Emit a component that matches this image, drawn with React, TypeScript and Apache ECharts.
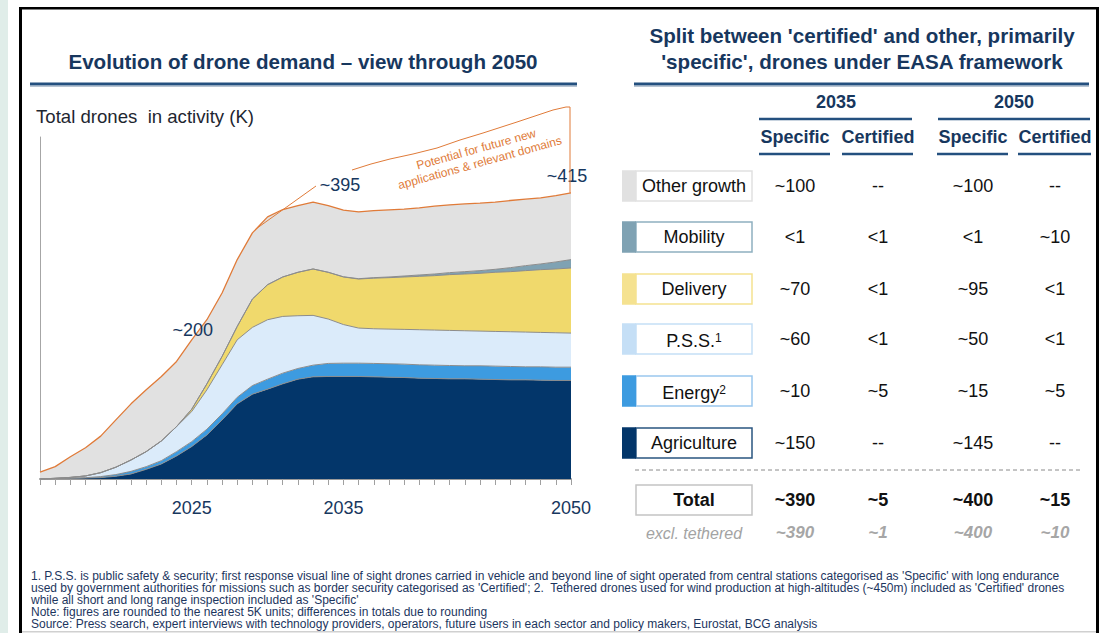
import React, { useEffect, useRef } from 'react';
import * as echarts from 'echarts';

// ---------- DATA ----------
const years = ['2015','2016','2017','2018','2019','2020','2021','2022','2023','2024','2025','2026','2027','2028','2029','2030','2031','2032','2033','2034','2035','2036','2037','2038','2039','2040','2041','2042','2043','2044','2045','2046','2047','2048','2049','2050'];
const shownYears = ['2025', '2035', '2050'];

const agriculture = [0, 0.5, 1, 1.5, 2, 4, 7.3, 14, 21.8, 33.4, 47, 63.9, 85.7, 109, 123, 130.3, 138, 144.8, 148.2, 148.7, 148.7, 148.7, 148.2, 147.7, 147.2, 146.2, 145.8, 145.3, 145.3, 144.8, 144.3, 143.8, 143.8, 143.3, 142.9, 142.9];
const energy = [0, 0.2, 0.3, 0.4, 1.5, 2.4, 3.8, 3.9, 4.8, 6.3, 7.2, 8.3, 8.7, 9.5, 12.5, 14.5, 15.5, 15.5, 16.9, 18.9, 19.3, 19.3, 19.4, 19.4, 19.4, 19.4, 19.3, 19.3, 18.9, 19.4, 19.4, 19.4, 18.9, 19.4, 19.3, 19.3];
const pss = [0, 0.3, 1, 2.5, 5.7, 10.7, 16.5, 21.8, 28.6, 36.3, 43.6, 57.1, 71.2, 83.4, 84.4, 86.2, 82.3, 76.5, 72.2, 64.4, 56, 50.9, 50.3, 50.3, 50.4, 50.9, 50.9, 50.9, 50.8, 50.3, 50.3, 50.4, 50.4, 49.9, 49.9, 49.4];
const delivery = [0, 0, 0, 0, 0, 0, 0, 0, 0, 0, 3.4, 8.7, 12.1, 19.4, 41.1, 50.8, 57.2, 63, 67.3, 67.8, 69, 71.1, 73.4, 74.6, 76, 77.4, 78.9, 80.9, 82.3, 83.8, 85.8, 87.1, 89.1, 91, 92.5, 94.4];
const mobility = [0, 0, 0, 0, 0, 0, 0, 0, 0, 0, 0, 0, 0, 0, 0, 0, 0, 0, 0, 0, 0.3, 0.5, 0.7, 1, 1.4, 2, 2.4, 2.9, 3.4, 3.9, 4.3, 5.8, 7.2, 8.3, 10.2, 12.2];
const otherGrowth = [10, 17, 30, 41, 53, 68.7, 81.4, 89.6, 93.5, 94.5, 100.7, 93, 92, 96.9, 95.9, 98.3, 97.8, 96.8, 96.9, 96.8, 96.7, 97, 97.3, 97.3, 96.9, 97.3, 98.3, 98.3, 98.3, 97.8, 97.4, 97.4, 96.4, 95.8, 96.3, 96.8];

const chartNotes = { mid: '~200', peak: '~395', end: '~415' };
const potentialText = 'Potential for future new\napplications & relevant domains';

const rowLabels = ['Other growth', 'Mobility', 'Delivery', 'P.S.S.', 'Energy', 'Agriculture'];
const rowSups = ['', '', '', '1', '2', ''];
const spec2035 = ['~100', '<1', '~70', '~60', '~10', '~150'];
const cert2035 = ['--', '<1', '<1', '<1', '~5', '--'];
const spec2050 = ['~100', '<1', '~95', '~50', '~15', '~145'];
const cert2050 = ['--', '~10', '<1', '<1', '~5', '--'];
const totalRow = ['~390', '~5', '~400', '~15'];
const exclTetheredRow = ['~390', '~1', '~400', '~10'];
const yearHeaders = ['2035', '2050'];
const subHeaders = ['Specific', 'Certified', 'Specific', 'Certified'];

const footnotes = [
  "1. P.S.S. is public safety & security; first response visual line of sight drones carried in vehicle and beyond line of sight operated from central stations categorised as 'Specific' with long endurance",
  "used by government authorities for missions such as border security categorised as 'Certified'; 2.  Tethered drones used for wind production at high-altitudes (~450m) included as 'Certified' drones",
  "while all short and long range inspection included as 'Specific'",
  'Note: figures are rounded to the nearest 5K units; differences in totals due to rounding',
  'Source: Press search, expert interviews with technology providers, operators, future users in each sector and policy makers, Eurostat, BCG analysis',
];

// ---------- STYLES ----------
const NAVY = '#17375e';
const FONT = '"Liberation Sans", Arial, sans-serif';
const COLORS: Record<string, { fill: string; strip: string; border: string }> = {
  'Other growth': { fill: '#e1e1e1', strip: '#e1e1e1', border: '#e1e1e1' },
  Mobility: { fill: '#7fa2b3', strip: '#7fa2b3', border: '#8fb0c0' },
  Delivery: { fill: '#f0d96c', strip: '#f5e290', border: '#f5e290' },
  'P.S.S.': { fill: '#dbebfa', strip: '#c5dff6', border: '#c5dff6' },
  Energy: { fill: '#3d9be0', strip: '#3d9be0', border: '#9bc8ee' },
  Agriculture: { fill: '#03366a', strip: '#03366a', border: '#2a5580' },
};

export default function App() {
  const ref = useRef<HTMLDivElement>(null);

  useEffect(() => {
    const chart = echarts.init(ref.current!, null, { renderer: 'svg' });
    const layers: [string, number[]][] = [
      ['Agriculture', agriculture],
      ['Energy', energy],
      ['P.S.S.', pss],
      ['Delivery', delivery],
      ['Mobility', mobility],
      ['Other growth', otherGrowth],
    ];
    const series = layers.map(([name, data]) => ({
      name,
      type: 'line',
      stack: 'total',
      data,
      showSymbol: false,
      symbol: 'none',
      lineStyle: { color: name === 'Other growth' ? '#e07b39' : '#8c8c8c', width: name === 'Other growth' ? 1.3 : 1 },
      areaStyle: { color: COLORS[name].fill, opacity: 1 },
      emphasis: { disabled: true },
      z: 2,
    }));

    chart.setOption({
      animation: false,
      backgroundColor: '#ffffff',
      grid: { left: 40, right: 533, top: 137, bottom: 154 },
      xAxis: {
        type: 'category',
        data: years,
        boundaryGap: false,
        axisLine: { show: true, lineStyle: { color: '#9a9a9a', width: 2 } },
        axisTick: { show: true, interval: 0, length: 6, lineStyle: { color: '#a0a0a0', width: 1 } },
        axisLabel: {
          interval: (_i: number, v: string) => shownYears.includes(v),
          color: NAVY,
          fontSize: 18,
          fontFamily: FONT,
          margin: 20,
        },
        splitLine: { show: false },
      },
      yAxis: {
        type: 'value',
        min: 0,
        max: 496,
        axisLine: { show: true, lineStyle: { color: '#a6a6a6', width: 1 } },
        axisTick: { show: false },
        axisLabel: { show: false },
        splitLine: { show: false },
      },
      series,
    });

    const totals = years.map((_, i) => layers.reduce((s, [, d]) => s + d[i], 0));
    const px = (i: number) => chart.convertToPixel({ xAxisIndex: 0, yAxisIndex: 0 }, [i, totals[i]]) as number[];
    const p29 = px(14);
    const p30 = px(15);
    const connStart = [(p29[0] + p30[0]) / 2 - 4, (p29[1] + p30[1]) / 2 + 4];
    const pEnd = px(years.length - 1);
    const p25 = px(10);

    const g: any[] = [];
    // page frame
    g.push({ type: 'rect', shape: { x: 0, y: 0, width: 8, height: 633 }, style: { fill: '#e0ede9' } });
    g.push({ type: 'rect', shape: { x: 19, y: 7, width: 3, height: 626 }, style: { fill: '#000' } });
    g.push({ type: 'rect', shape: { x: 19, y: 7, width: 1080, height: 2.5 }, style: { fill: '#000' } });
    g.push({ type: 'rect', shape: { x: 1096, y: 7, width: 3, height: 626 }, style: { fill: '#000' } });
    g.push({ type: 'rect', shape: { x: 22, y: 631, width: 1074, height: 1.5 }, style: { fill: '#d0d0d0' } });

    const text = (t: string, x: number, y: number, font: string, fill: string, align = 'center', extra: any = {}) => ({
      type: 'text',
      x,
      y,
      z: 100,
      silent: true,
      style: { text: t, font, fill, align, verticalAlign: 'middle', ...extra },
    });
    const hline = (x1: number, x2: number, y: number, color: string, w: number, dash?: number[]) => ({
      type: 'line',
      shape: { x1, y1: y, x2, y2: y },
      style: { stroke: color, lineWidth: w, lineDash: dash },
    });

    // left title
    g.push(text('Evolution of drone demand \u2013 view through 2050', 303, 61, `bold 20.6px ${FONT}`, NAVY));
    g.push(hline(30, 577, 84, '#24507f', 3));
    g.push(hline(30, 577, 86.5, '#b7c4d2', 1));
    g.push(text('Total drones  in activity (K)', 36, 116, `18.6px ${FONT}`, '#1e2630', 'left'));

    // chart annotations
    g.push(text(chartNotes.mid, p25[0] + 1, p25[1] - 10, `18px ${FONT}`, NAVY));
    g.push(text(chartNotes.peak, 340, 185, `18px ${FONT}`, NAVY));
    g.push(text(chartNotes.end, pEnd[0] - 4, 176, `18px ${FONT}`, NAVY));
    g.push({
      type: 'polyline',
      z: 100,
      shape: { points: [connStart, [316, 186]] },
      style: { stroke: '#e07b39', lineWidth: 1, fill: 'none' },
    });
    g.push({
      type: 'polyline',
      z: 100,
      shape: {
        points: [[352, 170], [371, 164], [390, 159], [413, 154], [437, 148], [460, 140], [483, 133], [517, 122], [553, 110], [566, 107], [pEnd[0] - 1, 107], [pEnd[0] - 1, pEnd[1]]],
      },
      style: { stroke: '#e07b39', lineWidth: 1, fill: 'none' },
    });
    g.push({
      type: 'text',
      x: 478,
      y: 156,
      z: 100,
      rotation: 0.27,
      silent: true,
      style: { text: potentialText, font: `12px ${FONT}`, fill: '#e07b39', align: 'center', verticalAlign: 'middle', lineHeight: 14 },
    });

    // right title
    g.push(text("Split between 'certified' and other, primarily", 862, 35, `bold 20.6px ${FONT}`, NAVY));
    g.push(text("'specific', drones under EASA framework", 862, 61, `bold 20.6px ${FONT}`, NAVY));
    g.push(hline(634, 1089, 84, '#24507f', 3));
    g.push(hline(634, 1089, 86.5, '#b7c4d2', 1));

    // table headers
    const colX = [795, 878, 973, 1055];
    const colSpan = [[759, 830], [842, 913], [937, 1008], [1018, 1091]];
    g.push(text(yearHeaders[0], 836, 102, `bold 18px ${FONT}`, NAVY));
    g.push(text(yearHeaders[1], 1014, 102, `bold 18px ${FONT}`, NAVY));
    g.push(hline(759, 912, 119, '#24507f', 2.5));
    g.push(hline(938, 1090, 119, '#24507f', 2.5));
    subHeaders.forEach((h, i) => {
      g.push(text(h, colX[i], 137, `bold 18px ${FONT}`, NAVY));
      g.push(hline(colSpan[i][0], colSpan[i][1], 154, '#24507f', 2.5));
    });

    // table rows
    const rowY = [186, 237, 289, 339, 391, 443];
    const cols = [spec2035, cert2035, spec2050, cert2050];
    rowLabels.forEach((label, r) => {
      const c = COLORS[label];
      const y = rowY[r];
      g.push({ type: 'rect', shape: { x: 636, y: y - 15, width: 116, height: 30 }, style: { fill: '#fff', stroke: c.border, lineWidth: 1.5 } });
      g.push({ type: 'rect', shape: { x: 622, y: y - 15.75, width: 14, height: 31.5 }, style: { fill: c.strip } });
      if (rowSups[r]) {
        g.push({
          type: 'text',
          x: 694,
          y,
          z: 100,
          silent: true,
          style: {
            text: `{a|${label}}{b|${rowSups[r]}}`,
            align: 'center',
            verticalAlign: 'middle',
            rich: {
              a: { fontSize: 18, fontFamily: FONT, fill: '#111', lineHeight: 22, verticalAlign: 'bottom' },
              b: { fontSize: 12, fontFamily: FONT, fill: '#111', lineHeight: 22, verticalAlign: 'top', padding: [4, 0, 0, 0] },
            },
          },
        });
      } else {
        g.push(text(label, 694, y, `18px ${FONT}`, '#111'));
      }
      cols.forEach((col, ci) => {
        g.push(text(col[r], colX[ci], y, `18px ${FONT}`, '#111'));
      });
    });

    // dashed separator & totals
    g.push(hline(635, 1083, 470, '#8a8a8a', 1, [4, 3]));
    g.push({ type: 'rect', shape: { x: 636, y: 485, width: 116, height: 30 }, style: { fill: '#fff', stroke: '#c4c4c4', lineWidth: 1.5 } });
    g.push(text('Total', 694, 500, `bold 18px ${FONT}`, '#111'));
    totalRow.forEach((v, i) => g.push(text(v, colX[i], 500, `bold 18px ${FONT}`, '#111')));
    g.push(text('excl. tethered', 694, 533, `italic 16px ${FONT}`, '#a3a3a3'));
    exclTetheredRow.forEach((v, i) => g.push(text(v, colX[i], 532, `italic bold 17px ${FONT}`, '#a6a6a6')));

    // footnotes
    footnotes.forEach((f, i) => {
      g.push(text(f, 31, 576 + i * 12, `12px ${FONT}`, '#1c355e', 'left'));
    });

    chart.setOption({ graphic: g });

    return () => chart.dispose();
  }, []);

  return <div ref={ref} style={{ position: 'absolute', left: 0, top: 0, width: 1104, height: 633, background: '#fff' }} />;
}
